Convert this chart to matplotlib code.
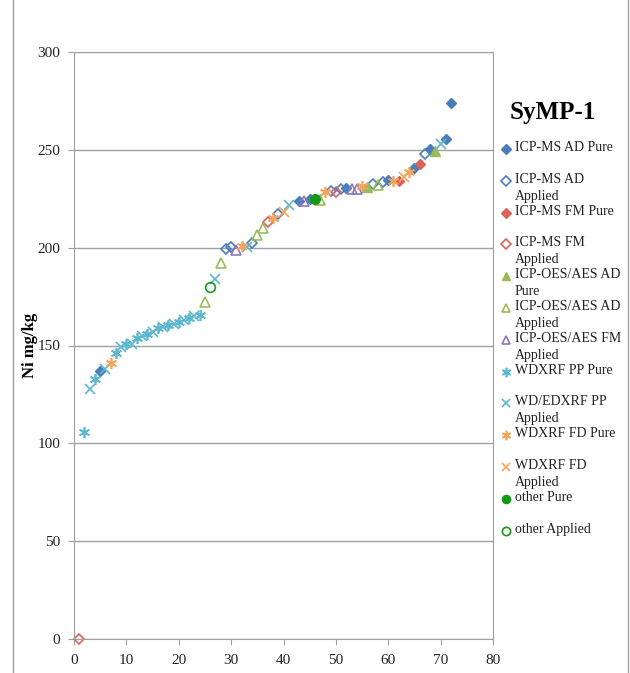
import matplotlib.pyplot as plt
from matplotlib.lines import Line2D

plt.rcParams['font.family'] = ['Liberation Serif', 'DejaVu Serif']

# series data (x = rank, y = Ni mg/kg)
icpms_ad_pure_x = [5, 43, 45, 52, 60, 65, 68, 71, 72]
icpms_ad_pure_y = [137, 224, 225, 230.5, 234.5, 240.5, 250.5, 255.5, 274]
icpms_ad_app_x = [29, 30, 34, 39, 49, 51, 57, 59, 67]
icpms_ad_app_y = [199.5, 200.5, 202.5, 217, 229, 230, 232.5, 233.5, 248]
icpms_fm_pure_x = [62, 66]
icpms_fm_pure_y = [234, 243]
icpms_fm_app_x = [1, 37, 50]
icpms_fm_app_y = [0, 213, 228.5]
oes_ad_pure_x = [56, 69]
oes_ad_pure_y = [231, 249.5]
oes_ad_app_x = [25, 28, 35, 36, 47, 58]
oes_ad_app_y = [172, 192, 206.5, 210, 224.5, 232]
oes_fm_app_x = [31, 44, 53, 54]
oes_fm_app_y = [199, 224, 230, 230]
wd_pp_pure_x = [2, 4, 8, 10, 12, 14, 16, 18, 20, 22, 24]
wd_pp_pure_y = [106, 133, 146, 151, 154, 156, 159, 160.5, 162, 164, 165.5]
wd_pp_app_x = [3, 6, 9, 11, 13, 15, 17, 19, 21, 23, 27, 33, 41, 70]
wd_pp_app_y = [128, 138, 149, 151, 155, 157, 159.5, 161, 163, 165, 184, 200.5, 222, 253]
wd_fd_pure_x = [7, 32, 38, 48, 55, 61, 64]
wd_fd_pure_y = [141, 201, 215, 228.5, 231.5, 234, 238.5]
wd_fd_app_x = [40, 63]
wd_fd_app_y = [218, 236]
other_pure_x = [46]
other_pure_y = [225]
other_app_x = [26]
other_app_y = [180]

labels = ['ICP-MS AD Pure', 'ICP-MS AD\nApplied', 'ICP-MS FM Pure', 'ICP-MS FM\nApplied',
          'ICP-OES/AES AD\nPure', 'ICP-OES/AES AD\nApplied', 'ICP-OES/AES FM\nApplied',
          'WDXRF PP Pure', 'WD/EDXRF PP\nApplied', 'WDXRF FD Pure', 'WDXRF FD\nApplied',
          'other Pure', 'other Applied']

blue = '#4A7EBB'
red = '#D9625D'
green = '#9BBB59'
purple = '#8F78B8'
cyan = '#5BB8D0'
orange = '#F7A35C'
dgreen = '#169A16'

ast = (6, 2, 0)
styles = [
    (icpms_ad_pure_x, icpms_ad_pure_y, dict(marker='D', ms=5.5, mfc=blue, mec=blue)),
    (icpms_ad_app_x, icpms_ad_app_y, dict(marker='D', ms=5.5, mfc='none', mec=blue, mew=1.2)),
    (icpms_fm_pure_x, icpms_fm_pure_y, dict(marker='D', ms=5.5, mfc=red, mec=red)),
    (icpms_fm_app_x, icpms_fm_app_y, dict(marker='D', ms=5.5, mfc='none', mec=red, mew=1.2)),
    (oes_ad_pure_x, oes_ad_pure_y, dict(marker='^', ms=7, mfc=green, mec=green)),
    (oes_ad_app_x, oes_ad_app_y, dict(marker='^', ms=7, mfc='none', mec=green, mew=1.2)),
    (oes_fm_app_x, oes_fm_app_y, dict(marker='^', ms=7, mfc='none', mec=purple, mew=1.2)),
    (wd_pp_pure_x, wd_pp_pure_y, dict(marker=ast, ms=8, mec=cyan, mew=1.2)),
    (wd_pp_app_x, wd_pp_app_y, dict(marker='x', ms=7, mec=cyan, mew=1.2)),
    (wd_fd_pure_x, wd_fd_pure_y, dict(marker=ast, ms=8, mec=orange, mew=1.2)),
    (wd_fd_app_x, wd_fd_app_y, dict(marker='x', ms=7, mec=orange, mew=1.2)),
    (other_pure_x, other_pure_y, dict(marker='o', ms=7, mfc=dgreen, mec=dgreen)),
    (other_app_x, other_app_y, dict(marker='o', ms=7, mfc='none', mec=dgreen, mew=1.2)),
]

fig = plt.figure(figsize=(6.3, 6.73), dpi=100)
ax = fig.add_axes([74 / 630, 34 / 673, 419 / 630, 587 / 673])

for xs, ys, st in styles:
    ax.plot(xs, ys, linestyle='none', clip_on=False, **st)

ax.set_xlim(0, 80)
ax.set_ylim(0, 300)
ax.set_xticks(range(0, 81, 10))
ax.set_yticks(range(0, 301, 50))
ax.yaxis.grid(True, color='#A0A0A0', linewidth=1)
ax.set_axisbelow(True)
for s in ax.spines.values():
    s.set_color('#A0A0A0')
ax.tick_params(colors='#A0A0A0', labelcolor='#222222', labelsize=11, length=4)
ax.tick_params(axis='x', pad=7)
ax.tick_params(axis='y', pad=6)
ax.set_ylabel('Ni mg/kg', fontsize=12, fontweight='bold')
ax.yaxis.set_label_coords(-0.085, 0.5)

# chart-area frame lines
for fx in (13 / 630, 628 / 630):
    fig.add_artist(Line2D([fx, fx], [0, 1], transform=fig.transFigure, color='#A0A0A0', lw=1))

fig.text(553 / 630, 1 - 112 / 673, 'SyMP-1', fontsize=18, fontweight='bold',
         ha='center', va='center')

# legend drawn by hand to keep the fixed row pitch of the original
row0 = 149
pitch = 31.8
for i, (lab, (_, _, st)) in enumerate(zip(labels, styles)):
    py = row0 + i * pitch
    yf = 1 - py / 673
    kw = dict(st)
    kw['ms'] = kw['ms'] * 0.85
    fig.add_artist(Line2D([506 / 630], [yf], transform=fig.transFigure, linestyle='none', **kw))
    fig.text(515 / 630, yf + 8 / 673, lab, fontsize=10, ha='left', va='top',
             linespacing=1.38, color='#222222')

fig.savefig('out.png', dpi=100)
